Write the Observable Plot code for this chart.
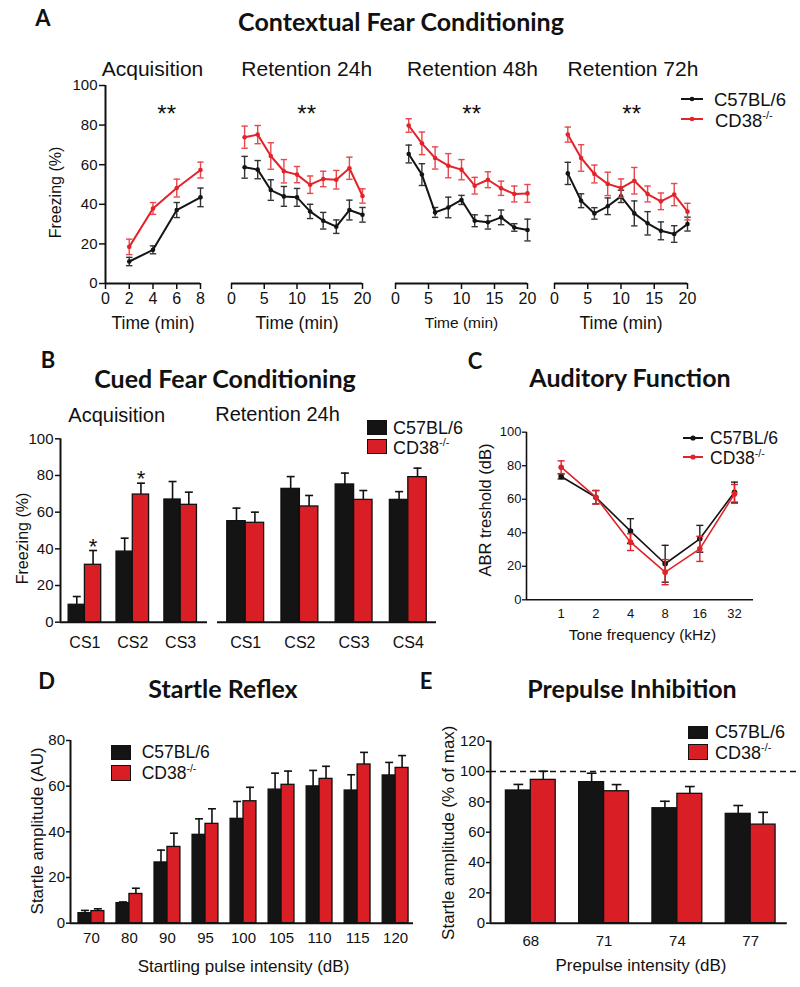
<!DOCTYPE html>
<html><head><meta charset="utf-8">
<script src="https://cdn.jsdelivr.net/npm/d3@7"></script>
<script src="https://cdn.jsdelivr.net/npm/@observablehq/plot@0.6"></script>
<style>
html,body{margin:0;padding:0;background:#fff;}
#root{position:relative;width:800px;height:987px;overflow:hidden;font-family:'Liberation Sans',Arial,sans-serif;color:#111;}
.lbl{position:absolute;white-space:nowrap;line-height:1;transform:translate(-50%,-50%);}
.ttl{font-family:Lato,'Open Sans',sans-serif;font-weight:700;font-size:25px;}
.pl{font-family:Lato,'Open Sans',sans-serif;font-weight:700;font-size:22px;}
.sub{font-size:21px;}
.star{font-size:24px;}
.leg{position:absolute;white-space:nowrap;line-height:1;transform:translateY(-50%);}
sup{font-size:0.6em;line-height:0;vertical-align:0.7em;}
.sw{position:absolute;box-sizing:border-box;border:1.5px solid #111;}
</style></head><body><div id="root"></div><script>
// ---------------- DATA ----------------
const genotypes = ["C57BL/6", "CD38-/-"];

// A: Contextual fear conditioning (freezing %, mean and SEM)
const acqTimes = [2, 4, 6, 8];
const acqBlack = [11.1, 17.0, 37.1, 43.5];
const acqBlackErr = [2.1, 2.0, 3.8, 4.7];
const acqRed = [18.5, 37.9, 48.2, 57.3];
const acqRedErr = [3.9, 3.0, 4.5, 4.0];

const retTimes = [2, 4, 6, 8, 10, 12, 14, 16, 18, 20];
const ret24Black = [58.7, 57.5, 47.2, 44.0, 43.5, 36.4, 31.7, 28.7, 37.1, 34.7];
const ret24BlackErr = [5.5, 4.6, 5.2, 5.0, 4.5, 3.6, 4.2, 3.4, 5.0, 3.7];
const ret24Red = [73.9, 75.2, 64.4, 56.7, 55.0, 49.9, 52.8, 52.4, 58.2, 44.2];
const ret24RedErr = [5.6, 4.6, 6.7, 5.9, 4.1, 4.4, 3.9, 4.7, 5.6, 3.6];
const ret48Black = [65.4, 55.0, 35.9, 38.4, 42.2, 31.7, 30.9, 33.4, 28.3, 27.0];
const ret48BlackErr = [4.5, 5.5, 2.5, 5.2, 2.3, 3.0, 3.4, 3.7, 1.9, 5.5];
const ret48Red = [79.8, 70.8, 63.4, 59.5, 57.5, 49.4, 52.4, 48.1, 45.2, 45.5];
const ret48RedErr = [3.4, 5.7, 5.6, 6.1, 5.1, 4.2, 4.0, 3.6, 4.0, 4.5];
const ret72Black = [55.6, 41.8, 35.4, 39.0, 44.0, 35.4, 30.4, 26.6, 25.0, 30.0];
const ret72BlackErr = [5.6, 3.5, 2.9, 4.2, 3.1, 6.3, 5.9, 4.5, 4.2, 3.5];
const ret72Red = [75.2, 63.4, 55.3, 50.3, 48.2, 51.9, 45.2, 41.5, 44.9, 36.3];
const ret72RedErr = [3.8, 6.7, 4.5, 5.9, 4.6, 6.7, 4.0, 4.2, 5.6, 4.2];

// B: Cued fear conditioning
const cuedAcqCats = ["CS1", "CS2", "CS3"];
const cuedAcqBlack = [9.5, 38.5, 66.9];
const cuedAcqBlackErr = [4.5, 7.3, 9.8];
const cuedAcqRed = [31.3, 69.6, 64.0];
const cuedAcqRedErr = [7.8, 6.2, 6.9];
const cuedAcqSig = ["*", "*", ""];
const cuedRetCats = ["CS1", "CS2", "CS3", "CS4"];
const cuedRetBlack = [55.1, 72.7, 75.1, 66.7];
const cuedRetBlackErr = [7.1, 6.7, 6.2, 4.5];
const cuedRetRed = [54.2, 63.1, 66.7, 79.1];
const cuedRetRedErr = [5.8, 6.0, 5.1, 4.9];

// C: Auditory function (ABR threshold, dB)
const freqs = [1, 2, 4, 8, 16, 32];
const abrBlack = [73.6, 61.2, 41.0, 21.5, 36.4, 64.2];
const abrBlackErr = [1.5, 4.0, 7.4, 11.0, 8.0, 6.0];
const abrRed = [79.1, 61.2, 34.4, 16.5, 30.4, 63.2];
const abrRedErr = [3.8, 4.0, 5.0, 7.5, 7.5, 5.6];

// D: Startle reflex
const startleCats = ["70", "80", "90", "95", "100", "105", "110", "115", "120"];
const startleBlack = [4.4, 8.8, 26.6, 38.7, 45.7, 58.5, 59.9, 58.1, 64.7];
const startleBlackErr = [1.2, 0.5, 5.4, 7.0, 7.6, 7.2, 7.0, 6.9, 5.7];
const startleRed = [5.3, 12.8, 33.4, 43.5, 53.4, 60.6, 63.2, 69.5, 68.0];
const startleRedErr = [1.0, 2.5, 6.0, 6.6, 6.1, 6.0, 5.5, 5.3, 5.4];

// E: Prepulse inhibition
const ppiCats = ["68", "71", "74", "77"];
const ppiBlack = [87.5, 93.0, 75.8, 72.1];
const ppiBlackErr = [4.0, 5.9, 4.6, 5.5];
const ppiRed = [94.5, 87.0, 85.3, 65.0];
const ppiRedErr = [5.7, 4.4, 4.8, 8.1];
const ppiReference = [100];

// ---------------- STYLE / HELPERS ----------------
const BLACK = "#141414", RED_LINE = "#e3232a", RED_ERR = "#e8474d", RED_BAR = "#d91e25";
const FONT = "'Liberation Sans', Arial, sans-serif";
const root = document.getElementById("root");

function put(node, left, top) {
  node.style.position = "absolute";
  node.style.left = left + "px";
  node.style.top = top + "px";
  root.append(node);
  return node;
}
function label(html, cx, cy, cls, extra) {
  const d = document.createElement("div");
  d.className = "lbl " + (cls || "");
  d.innerHTML = html;
  d.style.left = cx + "px"; d.style.top = cy + "px";
  if (extra) Object.assign(d.style, extra);
  root.append(d);
}
function legText(html, x, cy, size) {
  const d = document.createElement("div");
  d.className = "leg"; d.innerHTML = html;
  d.style.left = x + "px"; d.style.top = cy + "px"; d.style.fontSize = size + "px";
  root.append(d);
}
function legLine(x1, x2, cy, color, r) {
  const ns = "http://www.w3.org/2000/svg";
  const s = document.createElementNS(ns, "svg");
  s.setAttribute("width", x2 - x1 + 6); s.setAttribute("height", 10);
  s.style.position = "absolute"; s.style.left = (x1 - 3) + "px"; s.style.top = (cy - 5) + "px";
  const l = document.createElementNS(ns, "line");
  l.setAttribute("x1", 3); l.setAttribute("x2", x2 - x1 + 3); l.setAttribute("y1", 5); l.setAttribute("y2", 5);
  l.setAttribute("stroke", color); l.setAttribute("stroke-width", 2);
  const c = document.createElementNS(ns, "circle");
  c.setAttribute("cx", (x2 - x1) / 2 + 3); c.setAttribute("cy", 5); c.setAttribute("r", r); c.setAttribute("fill", color);
  s.append(l, c); root.append(s);
}
function legSquare(x, y, w, h, color) {
  const d = document.createElement("div");
  d.className = "sw";
  Object.assign(d.style, {left: x + "px", top: y + "px", width: w + "px", height: h + "px", background: color});
  root.append(d);
}

// a horizontal error-bar cap symbol
const capSymbol = { draw(ctx, size) { const w = Math.sqrt(size) / 2; ctx.moveTo(-w, 0); ctx.lineTo(w, 0); } };

const baseStyle = (fs) => ({fontFamily: FONT, fontSize: fs + "px", color: "#111", background: "none", overflow: "visible"});

function rowsOf(xs, means, errs) { return xs.map((t, i) => ({t, v: means[i], e: errs[i]})); }

function lineMarks(rows, color, errColor, o) {
  return [
    Plot.ruleX(rows, {x: "t", y1: d => d.v - d.e, y2: d => d.v + d.e, stroke: errColor, strokeWidth: 1.4}),
    Plot.dot(rows, {x: "t", y: d => d.v - d.e, symbol: capSymbol, r: o.cap, stroke: errColor, strokeWidth: 1.4, fill: "none"}),
    Plot.dot(rows, {x: "t", y: d => d.v + d.e, symbol: capSymbol, r: o.cap, stroke: errColor, strokeWidth: 1.4, fill: "none"}),
    Plot.line(rows, {x: "t", y: "v", stroke: color, strokeWidth: o.lw}),
    Plot.dot(rows, {x: "t", y: "v", r: o.r, fill: color, stroke: "none"})
  ];
}
const yTitle = (txt, dx, dy, fs) => Plot.text([txt], {frameAnchor: "left", textAnchor: "middle", lineAnchor: "middle", rotate: -90, dx, dy, fontSize: fs});
const xTitle = (txt, dx, dy, fs) => Plot.text([txt], {frameAnchor: "bottom", textAnchor: "middle", lineAnchor: "middle", dx, dy, fontSize: fs});

// ---------------- PANEL A ----------------
const xTimeAcq = [0, 8];
const xTimeRet = [0, 20];
function fearPlot({left, width, mL, mR, domain, ticks, times, black, blackErr, red, redErr, yAxis, xLabelSize}) {
  const marks = [];
  if (yAxis) {
    marks.push(
      Plot.axisY({ticks: [0, 20, 40, 60, 80, 100], tickSize: 6, tickPadding: 2, strokeWidth: 1.5, fontSize: 15, label: null}),
      Plot.ruleX([domain[0]], {strokeWidth: 2, stroke: "#111"}),
      yTitle("Freezing (%)", -50, 8, 16)
    );
  }
  marks.push(
    Plot.axisX({ticks, tickSize: 6, tickPadding: 3, strokeWidth: 1.5, fontSize: 16, label: null}),
    Plot.ruleY([0], {strokeWidth: 2, stroke: "#111"}),
    xTitle("Time (min)", 0, 40, xLabelSize),
    ...lineMarks(rowsOf(times, black, blackErr), BLACK, "#333", {cap: 3.6, lw: 2, r: 2.3}),
    ...lineMarks(rowsOf(times, red, redErr), RED_LINE, RED_ERR, {cap: 3.6, lw: 2, r: 2.3})
  );
  const p = Plot.plot({
    width, height: 290, marginLeft: mL, marginRight: mR, marginTop: 35, marginBottom: 57,
    x: {domain}, y: {domain: [0, 100], axis: yAxis ? undefined : null},
    style: baseStyle(15), marks
  });
  return put(p, left, 50);
}

fearPlot({left: 0, width: 215, mL: 105, mR: 15, domain: xTimeAcq, ticks: [0, 2, 4, 6, 8], times: acqTimes,
  black: acqBlack, blackErr: acqBlackErr, red: acqRed, redErr: acqRedErr, yAxis: true, xLabelSize: 17.5});
fearPlot({left: 210, width: 180, mL: 21, mR: 28, domain: xTimeRet, ticks: [0, 5, 10, 15, 20], times: retTimes,
  black: ret24Black, blackErr: ret24BlackErr, red: ret24Red, redErr: ret24RedErr, yAxis: false, xLabelSize: 17.5});
fearPlot({left: 380, width: 170, mL: 15, mR: 23, domain: xTimeRet, ticks: [0, 5, 10, 15, 20], times: retTimes,
  black: ret48Black, blackErr: ret48BlackErr, red: ret48Red, redErr: ret48RedErr, yAxis: false, xLabelSize: 15.5});
fearPlot({left: 540, width: 170, mL: 14, mR: 23, domain: xTimeRet, ticks: [0, 5, 10, 15, 20], times: retTimes,
  black: ret72Black, blackErr: ret72BlackErr, red: ret72Red, redErr: ret72RedErr, yAxis: false, xLabelSize: 17.5});

label("A", 43, 18, "pl");
label("Contextual Fear Conditioning", 401, 21, "ttl");
label("Acquisition", 152.5, 67.5, "sub");
label("Retention 24h", 306.7, 67.5, "sub");
label("Retention 48h", 472.5, 67.5, "sub");
label("Retention 72h", 633, 67.5, "sub");
[166.7, 306.7, 471.7, 631.7].forEach(x => label("**", x, 113.5, "star"));
legLine(681, 703, 99.3, BLACK, 2.3);
legLine(681, 703, 119.3, RED_LINE, 2.3);
legText("C57BL/6", 714, 99.5, 18.5);
legText("CD38<sup>-/-</sup>", 715, 120.5, 18.5);

// ---------------- BAR PLOT HELPER ----------------
const BAR_W = 0.34;
function barPlot(o) {
  const rows = [];
  o.cats.forEach((c, i) => {
    rows.push({i, g: genotypes[0], v: o.black[i], e: o.blackErr[i], x1: i - BAR_W, x2: i, xc: i - BAR_W / 2, s: ""});
    rows.push({i, g: genotypes[1], v: o.red[i], e: o.redErr[i], x1: i, x2: i + BAR_W, xc: i + BAR_W / 2, s: o.sig ? o.sig[i] : ""});
  });
  const marks = [];
  if (o.refLine) marks.push(Plot.ruleY(o.refLine, {stroke: "#111", strokeWidth: 1.6, strokeDasharray: "6,4"}));
  marks.push(
    Plot.rect(rows, {x1: "x1", x2: "x2", y1: 0, y2: "v", fill: d => d.g === genotypes[0] ? BLACK : RED_BAR, stroke: "#111", strokeWidth: 1.3}),
    Plot.ruleX(rows, {x: "xc", y1: "v", y2: d => d.v + d.e, stroke: "#111", strokeWidth: 1.6}),
    Plot.dot(rows, {x: "xc", y: d => d.v + d.e, symbol: capSymbol, r: o.capR, stroke: "#111", strokeWidth: 1.6, fill: "none"}),
    Plot.axisX({ticks: d3.range(o.cats.length), tickFormat: i => o.cats[i], tickSize: 0, tickPadding: o.tickPad, fontSize: o.catFont, label: null}),
    Plot.ruleY([0], {x1: o.xDomain[0], x2: o.xEnd ?? o.xDomain[1], strokeWidth: 2, stroke: "#111"})
  );
  if (o.sig) marks.push(Plot.text(rows.filter(d => d.s), {x: "xc", y: d => d.v + d.e, text: "s", dy: -4, fontSize: 22}));
  if (o.yAxis) {
    marks.push(
      Plot.axisY({ticks: o.yTicks, tickSize: o.yTickSize, tickPadding: o.yTickPad, strokeWidth: 1.5, fontSize: 15, label: null}),
      Plot.ruleX([o.xDomain[0]], {strokeWidth: 2, stroke: "#111"}),
      yTitle(o.yLabel, o.yLabelDx, o.yLabelDy, o.yLabelSize)
    );
  }
  if (o.xLabel) marks.push(xTitle(o.xLabel, o.xLabelDx, o.xLabelDy, 17));
  const p = Plot.plot({
    width: o.width, height: o.height, marginLeft: o.mL, marginRight: o.mR, marginTop: o.mT, marginBottom: o.mB,
    x: {domain: o.xDomain}, y: {domain: o.yDomain, axis: o.yAxis ? undefined : null},
    style: baseStyle(15), marks
  });
  return put(p, o.left, o.top);
}

// ---------------- PANEL B ----------------
barPlot({left: 0, top: 400, width: 215, height: 260, mL: 60, mR: 8, mT: 38.3, mB: 38.3,
  cats: cuedAcqCats, black: cuedAcqBlack, blackErr: cuedAcqBlackErr, red: cuedAcqRed, redErr: cuedAcqRedErr, sig: cuedAcqSig,
  xDomain: [-0.51, 2.56], yDomain: [0, 100], yTicks: [0, 20, 40, 60, 80, 100], yAxis: true, yTickSize: 5, yTickPad: 2,
  yLabel: "Freezing (%)", yLabelDx: -38, yLabelDy: 8, yLabelSize: 16, tickPad: 14, catFont: 16, capR: 4.5});
barPlot({left: 210, top: 400, width: 235, height: 260, mL: 7, mR: 9, mT: 38.3, mB: 38.3,
  cats: cuedRetCats, black: cuedRetBlack, blackErr: cuedRetBlackErr, red: cuedRetRed, redErr: cuedRetRedErr,
  xDomain: [-0.52, 3.52], yDomain: [0, 100], yAxis: false, tickPad: 14, catFont: 16, capR: 4.5});
label("B", 48, 360, "pl");
label("Cued Fear Conditioning", 225, 378, "ttl");
label("Acquisition", 116.7, 415, "sub", {fontSize: "20px"});
label("Retention 24h", 277.5, 413.7, "sub", {fontSize: "20px"});
legSquare(366.7, 420, 20, 14.5, BLACK);
legSquare(366.7, 438.5, 20, 15, RED_BAR);
legText("C57BL/6", 393, 427.5, 18);
legText("CD38<sup>-/-</sup>", 393, 447.5, 18);

// ---------------- PANEL C ----------------
const freqDomain = [0.5, 46.8];
const cPlot = Plot.plot({
  width: 380, height: 250, marginLeft: 106, marginRight: 47, marginTop: 31.7, marginBottom: 50.7,
  x: {type: "log", base: 2, domain: freqDomain}, y: {domain: [0, 100]},
  style: baseStyle(13),
  marks: [
    Plot.axisY({ticks: [0, 20, 40, 60, 80, 100], tickSize: 4, tickPadding: 1, strokeWidth: 1.3, fontSize: 13, label: null}),
    Plot.axisX({ticks: freqs, tickFormat: d => String(d), tickSize: 0, tickPadding: 9, fontSize: 13, label: null}),
    Plot.ruleX([freqDomain[0]], {strokeWidth: 1.6, stroke: "#111"}),
    Plot.ruleY([0], {strokeWidth: 1.6, stroke: "#111"}),
    yTitle("ABR treshold (dB)", -41, -6, 16.5),
    xTitle("Tone frequency (kHz)", 2.5, 35.7, 15.5),
    ...lineMarks(rowsOf(freqs, abrBlack, abrBlackErr), BLACK, "#222", {cap: 4, lw: 1.6, r: 2.8}),
    ...lineMarks(rowsOf(freqs, abrRed, abrRedErr), RED_LINE, RED_LINE, {cap: 4, lw: 1.6, r: 2.8})
  ]
});
put(cPlot, 420, 400);
label("C", 475, 360.5, "pl");
label("Auditory Function", 630, 377, "ttl");
legLine(683.3, 703.3, 438.3, BLACK, 2.6);
legLine(683.3, 703.3, 457.3, RED_LINE, 2.6);
legText("C57BL/6", 710, 438.5, 17.5);
legText("CD38<sup>-/-</sup>", 710, 458.5, 17.5);

// ---------------- PANEL D ----------------
barPlot({left: 0, top: 700, width: 420, height: 287, mL: 70, mR: 7, mT: 40, mB: 64.3,
  cats: startleCats, black: startleBlack, blackErr: startleBlackErr, red: startleRed, redErr: startleRedErr,
  xDomain: [-0.55, 8.47], yDomain: [0, 80], yTicks: [0, 20, 40, 60, 80], yAxis: true, yTickSize: 4, yTickPad: 1.5,
  yLabel: "Startle amplitude (AU)", yLabelDx: -33.3, yLabelDy: -1, yLabelSize: 17,
  xLabel: "Startling pulse intensity (dB)", xLabelDx: 1.5, xLabelDy: 43.3, tickPad: 9, catFont: 15, capR: 4.5});
label("D", 46.7, 680.7, "pl");
label("Startle Reflex", 223, 688, "ttl");
legSquare(110.7, 745, 20, 14.5, BLACK);
legSquare(110.7, 765, 20, 16, RED_BAR);
legText("C57BL/6", 141.7, 752.5, 17.5);
legText("CD38<sup>-/-</sup>", 141.7, 774, 17.5);

// ---------------- PANEL E ----------------
barPlot({left: 420, top: 700, width: 382, height: 287, mL: 70, mR: 2, mT: 40.7, mB: 64.3,
  cats: ppiCats, black: ppiBlack, blackErr: ppiBlackErr, red: ppiRed, redErr: ppiRedErr, refLine: ppiReference,
  xDomain: [-0.55, 3.68], xEnd: 3.5, yDomain: [0, 120], yTicks: [0, 20, 40, 60, 80, 100, 120], yAxis: true, yTickSize: 4, yTickPad: 1.5,
  yLabel: "Startle amplitude (% of max)", yLabelDx: -41.7, yLabelDy: 0.5, yLabelSize: 17,
  xLabel: "Prepulse intensity (dB)", xLabelDx: -4.5, xLabelDy: 42.3, tickPad: 12, catFont: 15, capR: 5.5});
label("E", 426, 681, "pl");
label("Prepulse Inhibition", 632, 687.5, "ttl");
legSquare(688.3, 726, 20, 12.5, BLACK);
legSquare(688.3, 744.3, 20, 15.7, RED_BAR);
legText("C57BL/6", 715, 732, 18);
legText("CD38<sup>-/-</sup>", 715, 753, 18);
</script></body></html>
